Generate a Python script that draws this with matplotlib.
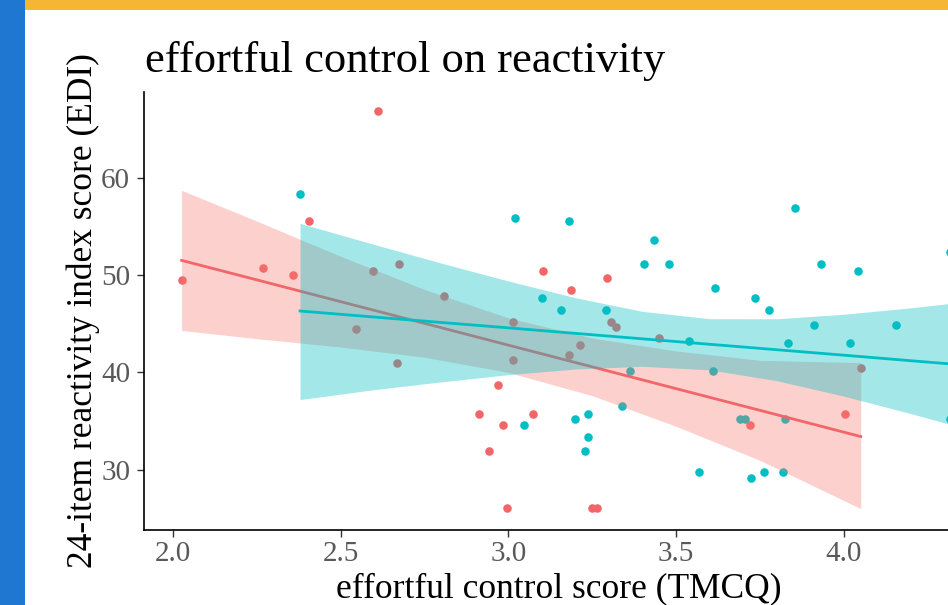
import matplotlib
matplotlib.use("Agg")
import matplotlib.pyplot as plt
from matplotlib.patches import Rectangle

# ---- data ----
red_x = [2.026, 2.270, 2.358, 2.405, 2.612, 2.597, 2.675, 2.808, 2.545, 2.669,
         3.015, 3.015, 2.968, 2.912, 2.985, 3.072, 2.942, 2.995, 3.103, 3.295,
         3.187, 3.306, 3.320, 3.450, 3.181, 3.213, 4.050, 4.004, 3.720, 3.248, 3.265]
red_y = [49.5, 50.7, 50.0, 55.5, 66.8, 50.4, 51.1, 47.8, 44.4, 41.0,
         45.2, 41.3, 38.7, 35.7, 34.6, 35.7, 31.9, 26.1, 50.4, 49.7,
         48.5, 45.2, 44.7, 43.5, 41.8, 42.8, 40.4, 35.7, 34.6, 26.1, 26.1]

teal_x = [2.379, 3.020, 3.099, 3.181, 3.435, 3.854, 3.403, 3.480, 3.931, 4.041,
          4.315, 3.156, 3.290, 3.617, 3.736, 3.777, 3.911, 4.154, 3.538, 3.832,
          4.019, 3.361, 3.611, 3.337, 3.691, 3.706, 3.823, 4.315, 3.046, 3.197,
          3.238, 3.238, 3.227, 3.569, 3.724, 3.761, 3.819]
teal_y = [58.3, 55.9, 47.6, 55.5, 53.6, 56.9, 51.1, 51.1, 51.1, 50.4,
          52.4, 46.4, 46.4, 48.7, 47.6, 46.4, 44.9, 44.9, 43.2, 43.0,
          43.0, 40.1, 40.1, 36.5, 35.2, 35.2, 35.2, 35.2, 34.6, 35.2,
          35.7, 33.4, 31.9, 29.8, 29.1, 29.8, 29.8]

# fitted lines and confidence bands
red_fit_x = [2.026, 2.25, 2.5, 2.75, 3.0, 3.25, 3.5, 3.75, 4.05]
red_fit_y = [51.50, 49.50, 47.26, 45.03, 42.79, 40.56, 38.32, 36.09, 33.40]
red_lo = [44.3, 43.46, 42.60, 41.55, 39.99, 37.60, 34.45, 30.95, 26.0]
red_hi = [58.7, 55.54, 51.92, 48.51, 45.59, 43.52, 42.19, 41.23, 41.0]

teal_fit_x = [2.379, 2.6, 2.8, 3.0, 3.2, 3.4, 3.6, 3.8, 4.0, 4.2, 4.4]
teal_fit_y = [46.30, 45.68, 45.12, 44.57, 44.00, 43.44, 42.88, 42.32, 41.76, 41.19, 40.63]
teal_lo = [37.2, 38.22, 39.02, 39.76, 40.34, 40.62, 40.25, 39.14, 37.55, 35.75, 33.86]
teal_hi = [55.3, 53.14, 51.22, 49.38, 47.66, 46.26, 45.51, 45.50, 45.97, 46.63, 47.40]

x_ticks = [2.0, 2.5, 3.0, 3.5, 4.0]
x_ticklabels = ["2.0", "2.5", "3.0", "3.5", "4.0"]
y_ticks = [30, 40, 50, 60]
y_ticklabels = ["30", "40", "50", "60"]

title = "effortful control on reactivity"
xlabel = "effortful control score (TMCQ)"
ylabel = "24-item reactivity index score (EDI)"

RED = "#F2666A"
TEAL = "#00BFC4"
W, H = 948, 605

plt.rcParams["font.family"] = ["Liberation Serif", "DejaVu Serif"]

fig = plt.figure(figsize=(W / 100, H / 100), dpi=100)
fig.patch.set_facecolor("white")

# slide decorations
fig.add_artist(Rectangle((0, 0), 25 / W, 1, transform=fig.transFigure,
                         facecolor="#1F77D2", edgecolor="none", zorder=0))
fig.add_artist(Rectangle((25 / W, 1 - 10 / H), 1 - 25 / W, 10 / H, transform=fig.transFigure,
                         facecolor="#F6B532", edgecolor="none", zorder=0))

left, right, bottom, top = 144, 948, 530, 92
ax = fig.add_axes([left / W, 1 - bottom / H, (right - left) / W, (bottom - top) / H])
ax.set_facecolor("white")

ax.scatter(red_x, red_y, s=38, color=RED, linewidths=0, zorder=2)
ax.scatter(teal_x, teal_y, s=38, color=TEAL, linewidths=0, zorder=2)

ax.fill_between(red_fit_x, red_lo, red_hi, color="#F8766D", alpha=0.34, linewidth=0, zorder=3)
ax.plot(red_fit_x, red_fit_y, color=RED, lw=2.0, zorder=4)
ax.fill_between(teal_fit_x, teal_lo, teal_hi, color=TEAL, alpha=0.36, linewidth=0, zorder=5)
ax.plot(teal_fit_x, teal_fit_y, color=TEAL, lw=2.0, zorder=6)

ax.set_xlim(1.914, 4.31)
ax.set_ylim(23.8, 68.8)

ax.set_xticks(x_ticks)
ax.set_xticklabels(x_ticklabels)
ax.set_yticks(y_ticks)
ax.set_yticklabels(y_ticklabels)
ax.tick_params(axis="both", length=5, width=1.0, color="#333333",
               labelsize=21, labelcolor="#595959")
ax.tick_params(axis="y", pad=5)
ax.tick_params(axis="x", pad=3)

for s in ["top", "right"]:
    ax.spines[s].set_visible(False)
for s in ["left", "bottom"]:
    ax.spines[s].set_linewidth(1.2)
    ax.spines[s].set_color("black")

fig.text(145 / W, 1 - 72 / H, title, fontsize=32, color="black", ha="left", va="baseline")
fig.text(559 / W, 1 - 597 / H, xlabel, fontsize=25.5, color="black", ha="center", va="baseline")
fig.text(83 / W, 1 - 311 / H, ylabel, fontsize=25.5, color="black", ha="center", va="center",
         rotation=90)

fig.savefig("out.png", dpi=100)
